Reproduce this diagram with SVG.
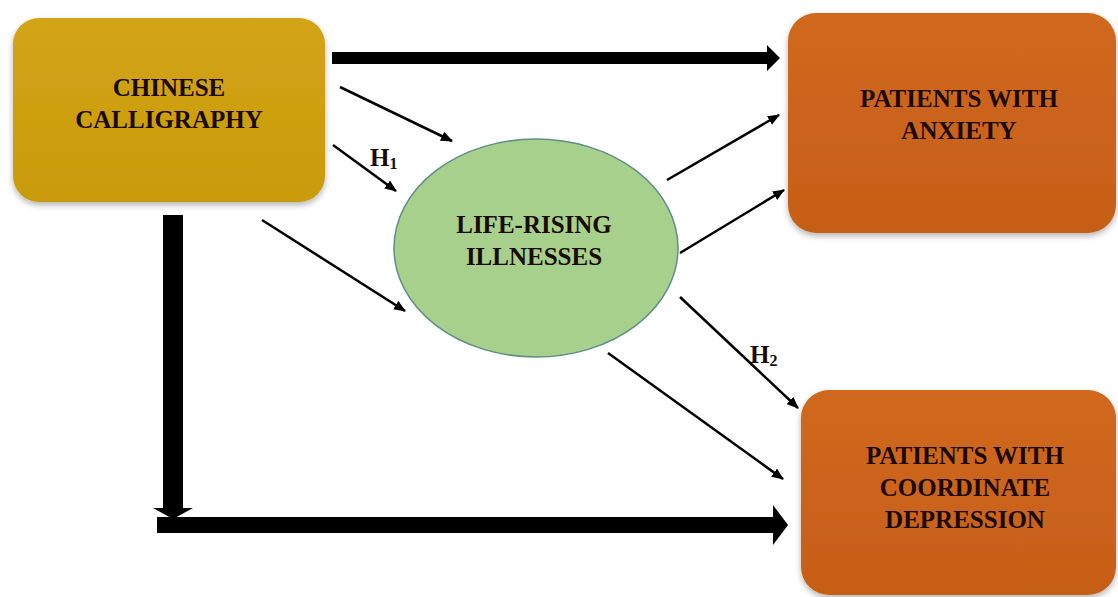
<svg xmlns="http://www.w3.org/2000/svg" width="1118" height="597" viewBox="0 0 1118 597">
<defs>
<linearGradient id="gold" x1="0" y1="0" x2="0" y2="1"><stop offset="0" stop-color="#D3A414"/><stop offset="1" stop-color="#C99B0E"/></linearGradient>
<linearGradient id="orange" x1="0" y1="0" x2="0" y2="1"><stop offset="0" stop-color="#D0681F"/><stop offset="1" stop-color="#C65F18"/></linearGradient>
<filter id="sh" x="-10%" y="-10%" width="120%" height="130%"><feGaussianBlur in="SourceAlpha" stdDeviation="3"/><feOffset dx="0" dy="3"/><feComponentTransfer><feFuncA type="linear" slope="0.3"/></feComponentTransfer><feMerge><feMergeNode/><feMergeNode in="SourceGraphic"/></feMerge></filter>
<marker id="ah" viewBox="0 0 12 10" refX="11" refY="5" markerWidth="12" markerHeight="10" markerUnits="userSpaceOnUse" orient="auto"><path d="M0,0 L12,5 L0,10 Z" fill="#000"/></marker>
<style>
.lbl{font-family:'Liberation Serif',serif;font-weight:bold;font-size:25px;fill:#1a0a00;text-anchor:middle}
.hl{text-anchor:start}
.thin{stroke:#000;stroke-width:2.5;fill:none;marker-end:url(#ah)}
</style>
</defs>
<rect width="1118" height="597" fill="#fff"/>
<g id="connectors">
<polygon points="332,52 767,52 767,45 780,58 767,71 767,64 332,64" fill="#000"/>
<polygon points="163,215 183,215 183,508 193,508 173,519 153,508 163,508" fill="#000"/>
<polygon points="157,517 773,517 773,505 788,525 773,545 773,533 157,533" fill="#000"/>
<line class="thin" x1="340" y1="87" x2="452" y2="141"/>
<line class="thin" x1="333" y1="145" x2="396" y2="191"/>
<line class="thin" x1="262" y1="220" x2="405" y2="311"/>
<line class="thin" x1="667" y1="180" x2="779" y2="115"/>
<line class="thin" x1="680" y1="253" x2="784" y2="190"/>
<line class="thin" x1="680" y1="297" x2="798" y2="408"/>
<line class="thin" x1="608" y1="353" x2="783" y2="479"/>
<text class="lbl hl" x="370" y="166">H<tspan font-size="16" dy="3">1</tspan></text>
<text class="lbl hl" x="750" y="363">H<tspan font-size="16" dy="3">2</tspan></text>
</g>
<g id="chinese-calligraphy">
<rect x="13" y="18" width="312" height="184" rx="26" fill="url(#gold)" filter="url(#sh)"/>
<text class="lbl" x="169" y="96">CHINESE</text>
<text class="lbl" x="169" y="128">CALLIGRAPHY</text>
</g>
<g id="life-rising">
<ellipse cx="536" cy="248" rx="142" ry="109" fill="#A8D08D" stroke="#5E8F86" stroke-width="1.5"/>
<text class="lbl" x="534" y="233">LIFE-RISING</text>
<text class="lbl" x="534" y="265">ILLNESSES</text>
</g>
<g id="anxiety">
<rect x="788" y="13" width="328" height="220" rx="28" fill="url(#orange)" filter="url(#sh)"/>
<text class="lbl" x="959" y="107">PATIENTS WITH</text>
<text class="lbl" x="959" y="139">ANXIETY</text>
</g>
<g id="depression">
<rect x="801" y="390" width="315" height="205" rx="28" fill="url(#orange)" filter="url(#sh)"/>
<text class="lbl" x="965" y="464">PATIENTS WITH</text>
<text class="lbl" x="965" y="496">COORDINATE</text>
<text class="lbl" x="965" y="528">DEPRESSION</text>
</g>
</svg>
